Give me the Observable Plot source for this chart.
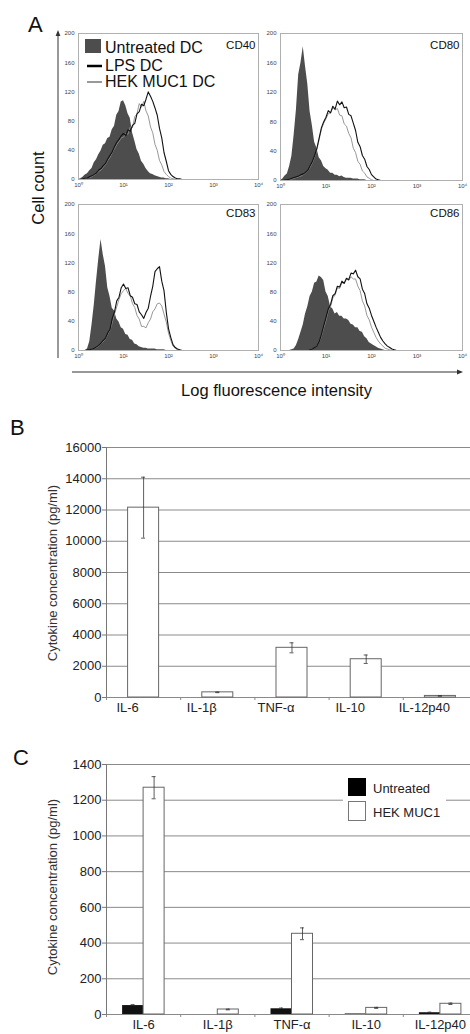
<!DOCTYPE html>
<html><head><meta charset="utf-8">
<script src="https://cdn.jsdelivr.net/npm/d3@7"></script>
<script src="https://cdn.jsdelivr.net/npm/@observablehq/plot@0.6"></script>
<style>
html,body{margin:0;padding:0;background:#fff;}
#fig{position:relative;width:470px;height:1034px;overflow:hidden;background:#fff;font-family:"Liberation Sans",Arial,sans-serif;color:#111;}
.holder{position:absolute;}
#overlay{position:absolute;left:0;top:0;pointer-events:none;}
</style></head><body><div id="fig"></div>
<script>
// ---------- Panel A: flow cytometry histograms ----------
// bin positions (log10 of fluorescence intensity)
const EXP = [0,0.05,0.1,0.15,0.2,0.25,0.3,0.35,0.4,0.45,
             0.5,0.55,0.6,0.65,0.7,0.75,0.8,0.85,0.9,0.95,
             1.0,1.05,1.1,1.15,1.2,1.25,1.3,1.35,1.4,1.45,
             1.5,1.55,1.6,1.65,1.7,1.75,1.8,1.85,1.9,1.95,
             2.0,2.05,2.1,2.15,2.2,2.25,2.3,2.35,2.4,2.45,
             2.5,2.55,2.6];
const A_X_TICKS = [1,10,100,1000,10000];
const A_Y_TICKS = [0,40,80,120,160,200];
const A_LEGEND = ["Untreated DC","LPS DC","HEK MUC1 DC"];

const CD40_UNTREATED = [0,1,3,6,8,12,15,23,27,34, 39,47,49,56,58,68,73,88,93,106, 108,101,90,84,64,53,41,35,25,21, 15,11,8,7,5,4,3,2,2,1, 1,0,0,0,0,0,0,0,0,0, 0,0,0];
const CD40_LPS       = [0,0,1,2,2,4,5,7,9,13, 15,19,22,28,33,38,45,51,55,60, 63,60,68,66,74,77,90,93,103,101, 110,120,114,107,98,88,70,57,37,25, 12,7,4,2,1,1,0,0,0,0, 0,0,0];
const CD40_HEK       = [0,0,1,2,2,3,4,6,8,11, 13,17,20,26,30,37,42,48,52,57, 58,63,62,72,71,86,90,104,99,107, 94,87,72,64,48,40,26,20,11,7, 4,2,1,0,0,0,0,0,0,0, 0,0,0];

const CD80_UNTREATED = [0,2,6,9,19,33,62,96,144,160, 182,155,131,94,75,52,44,31,27,19, 16,14,10,10,7,7,5,6,4,3, 3,3,2,2,2,1,1,1,0,0, 0,0,0,0,0,0,0,0,0,0, 0,0,0];
const CD80_LPS       = [0,0,1,1,2,3,4,5,6,8, 9,11,14,20,26,34,44,58,72,80, 86,95,92,101,97,108,103,107,99,100, 90,88,78,68,52,46,34,29,19,15, 8,5,2,1,0,0,0,0,0,0, 0,0,0];
const CD80_HEK       = [0,0,1,1,2,2,3,4,5,6, 8,10,13,18,24,32,42,56,70,78, 84,91,92,99,96,98,89,88,77,74, 64,58,44,38,26,22,13,10,5,3, 1,0,0,0,0,0,0,0,0,0, 0,0,0];

const CD83_UNTREATED = [0,0,0,0,2,12,35,62,95,125, 152,131,115,86,74,58,54,43,39,31, 29,22,21,15,14,9,8,5,4,3, 3,2,2,2,2,1,1,1,1,0, 0,0,0,0,0,0,0,0,0,0, 0,0,0];
const CD83_LPS       = [0,0,0,0,1,1,2,3,5,7, 10,14,17,24,29,44,53,68,73,86, 91,85,86,75,73,64,63,53,49,44, 52,58,74,88,108,112,115,95,82,53, 30,18,8,4,2,1,0,0,0,0, 0,0,0];
const CD83_HEK       = [0,0,0,0,1,1,2,3,4,6, 9,12,16,22,28,38,50,60,70,78, 82,85,78,75,64,59,48,43,33,33, 31,38,43,53,57,64,65,61,50,39, 24,14,6,3,1,0,0,0,0,0, 0,0,0];

const CD86_UNTREATED = [0,0,0,0,0,1,2,7,15,25, 35,50,60,74,80,92,94,102,100,96, 80,74,60,57,50,52,47,47,43,43, 41,36,35,31,31,26,25,19,16,11, 9,7,5,3,2,1,0,0,0,0, 0,0,0];
const CD86_LPS       = [0,0,0,0,0,0,0,0,0,0, 0,0,0,1,2,4,6,12,22,34, 45,57,63,75,78,88,87,95,92,99, 97,106,105,110,101,98,84,78,64,58, 48,40,32,25,18,13,9,6,4,2, 1,0,0];
const CD86_HEK       = [0,0,0,0,0,0,0,0,0,0, 0,0,0,1,2,4,6,11,20,31, 41,54,60,72,76,86,85,93,92,98, 96,101,98,98,88,82,68,61,48,42, 32,25,18,13,9,6,3,2,1,0, 0,0,0];

// ---------- Panels B and C: cytokines ----------
const CYTOKINES = ["IL-6","IL-1β","TNF-α","IL-10","IL-12p40"];
const B_VALUES = [12150, 330, 3180, 2450, 100];
const B_ERRORS = [1950, 20, 320, 270, 15];
const B_TICKS = [0,2000,4000,6000,8000,10000,12000,14000,16000];

const C_SERIES = ["Untreated","HEK MUC1"];
const C_UNTREATED = [50, 0, 32, 3, 10];
const C_UNTREATED_ERR = [5, 0, 4, 0, 3];
const C_HEK = [1270, 28, 452, 37, 60];
const C_HEK_ERR = [62, 2, 33, 3, 4];
const C_TICKS = [0,200,400,600,800,1000,1200,1400];

const Y_TITLE = "Cytokine concentration (pg/ml)";
const FONT = "'Liberation Sans', Arial, sans-serif";

const fig = document.getElementById("fig");
function place(node, left, top) {
  const d = document.createElement("div");
  d.className = "holder";
  d.style.left = left + "px";
  d.style.top = top + "px";
  d.appendChild(node);
  fig.appendChild(d);
}

const SUP = ["⁰","¹","²","³","⁴"];
const panels = [
  {name:"CD40", left:56, top:31, w:206, hgt:160, dy:7, u:CD40_UNTREATED, l:CD40_LPS, k:CD40_HEK},
  {name:"CD80", left:258, top:31, w:208, hgt:161, dy:7, u:CD80_UNTREATED, l:CD80_LPS, k:CD80_HEK},
  {name:"CD83", left:56, top:202, w:206, hgt:160, dy:4, u:CD83_UNTREATED, l:CD83_LPS, k:CD83_HEK},
  {name:"CD86", left:258, top:202, w:208, hgt:160, dy:4, u:CD86_UNTREATED, l:CD86_LPS, k:CD86_HEK}
];
for (const p of panels) {
  const data = EXP.map((e,i) => ({intensity: Math.pow(10, e), untreated: p.u[i], lps: p.l[i], hek: p.k[i]}));
  const chart = Plot.plot({
    width: p.w, height: p.hgt,
    marginLeft: 22, marginRight: 4, marginTop: 2, marginBottom: 12,
    style: {fontFamily: FONT, fontSize: "6px", color: "#444", overflow: "visible", background: "transparent"},
    x: {type: "log", domain: [1, 10000]},
    y: {domain: [0, 200]},
    marks: [
      Plot.areaY(data, {x: "intensity", y: "untreated", fill: "#4d4d4d"}),
      Plot.lineY(data, {x: "intensity", y: "hek", stroke: "#8c8c8c", strokeWidth: 0.9}),
      Plot.lineY(data, {x: "intensity", y: "lps", stroke: "#111", strokeWidth: 1.1}),
      Plot.frame({stroke: "#b0b0b0"}),
      Plot.axisX({ticks: A_X_TICKS, tickFormat: d => "10" + SUP[Math.round(Math.log10(d))], tickSize: 0, tickPadding: 3, label: null}),
      Plot.axisY({ticks: A_Y_TICKS, tickSize: 0, tickPadding: 4, label: null}),
      Plot.text([p.name], {frameAnchor: "top-right", text: d => d, dx: -3, dy: p.dy, textAnchor: "end", lineAnchor: "top", fontSize: 11.5, fill: "#111"})
    ]
  });
  place(chart, p.left, p.top);
}

// ---------- Panel B ----------
const bData = CYTOKINES.map((name, i) => ({name, value: B_VALUES[i], err: B_ERRORS[i]}));
const chartB = Plot.plot({
  width: 470, height: 282,
  marginLeft: 106, marginRight: -7, marginTop: 7, marginBottom: 25,
  style: {fontFamily: FONT, fontSize: "13px", color: "#222", background: "transparent"},
  x: {domain: CYTOKINES, paddingInner: 0.582, paddingOuter: 0.291, round: false},
  y: {domain: [0, 16000]},
  marks: [
    Plot.gridY({ticks: B_TICKS, stroke: "#8a8a8a", strokeOpacity: 1}),
    Plot.frame({anchor: "left", stroke: "#777"}),
    Plot.barY(bData, {x: "name", y: "value", fill: "white", stroke: "#666"}),
    Plot.ruleX(bData, {x: "name", y1: d => d.value - d.err, y2: d => d.value + d.err, stroke: "#333", strokeWidth: 0.8}),
    Plot.tickY(bData, {x: "name", y: d => d.value + d.err, insetLeft: 13.5, insetRight: 13.5, stroke: "#333", strokeWidth: 0.8}),
    Plot.tickY(bData, {x: "name", y: d => d.value - d.err, insetLeft: 13.5, insetRight: 13.5, stroke: "#333", strokeWidth: 0.8}),
    Plot.axisY({ticks: B_TICKS, tickFormat: d => String(d), tickSize: 4, tickPadding: 1, stroke: "#777", label: null}),
    Plot.axisX({tickSize: 0, tickPadding: 5, dx: -16, label: null}),
    Plot.axisX({tickSize: 3, tickFormat: () => "", dx: -37.1, stroke: "#888", label: null})
  ]
});
place(chartB, 0, 440);

// ---------- Panel C ----------
const cData = CYTOKINES.map((name, i) => ({name, untreated: C_UNTREATED[i], uErr: C_UNTREATED_ERR[i], hek: C_HEK[i], hErr: C_HEK_ERR[i]}));
const errStyle = {stroke: "#333", strokeWidth: 0.8};
const chartC = Plot.plot({
  width: 470, height: 277,
  marginLeft: 106, marginRight: -7, marginTop: 7, marginBottom: 20,
  style: {fontFamily: FONT, fontSize: "13px", color: "#222", background: "transparent"},
  x: {domain: CYTOKINES, paddingInner: 0.434, paddingOuter: 0.217, round: false},
  y: {domain: [0, 1400]},
  marks: [
    Plot.gridY({ticks: C_TICKS, stroke: "#8a8a8a", strokeOpacity: 1}),
    Plot.frame({anchor: "left", stroke: "#777"}),
    Plot.barY(cData, {x: "name", y: "untreated", insetRight: 21, fill: "#111"}),
    Plot.barY(cData, {x: "name", y: "hek", insetLeft: 21, fill: "white", stroke: "#666"}),
    Plot.ruleX(cData.filter(d => d.uErr > 0), {x: "name", dx: -10.5, y1: d => d.untreated - d.uErr, y2: d => d.untreated + d.uErr, ...errStyle}),
    Plot.tickY(cData.filter(d => d.uErr > 0), {x: "name", y: d => d.untreated + d.uErr, insetLeft: 8.5, insetRight: 29.5, ...errStyle}),
    Plot.ruleX(cData, {x: "name", dx: 10.5, y1: d => d.hek - d.hErr, y2: d => d.hek + d.hErr, ...errStyle}),
    Plot.tickY(cData, {x: "name", y: d => d.hek + d.hErr, insetLeft: 29.5, insetRight: 8.5, ...errStyle}),
    Plot.tickY(cData, {x: "name", y: d => d.hek - d.hErr, insetLeft: 29.5, insetRight: 8.5, ...errStyle}),
    Plot.axisY({ticks: C_TICKS, tickFormat: d => String(d), tickSize: 4, tickPadding: 1, stroke: "#777", label: null}),
    Plot.axisX({tickSize: 0, tickPadding: 5, label: null}),
    Plot.axisX({tickSize: 3, tickFormat: () => "", dx: -37.1, stroke: "#888", label: null})
  ]
});
place(chartC, 0, 757);

// ---------- overlay: panel letters, outer axes, titles, legends ----------
const NS = "http://www.w3.org/2000/svg";
const ov = document.createElementNS(NS, "svg");
ov.setAttribute("id", "overlay");
ov.setAttribute("width", 470);
ov.setAttribute("height", 1034);
ov.setAttribute("font-family", FONT);
function el(tag, attrs, text) {
  const e = document.createElementNS(NS, tag);
  for (const k in attrs) e.setAttribute(k, attrs[k]);
  if (text != null) e.textContent = text;
  ov.appendChild(e);
  return e;
}
el("text", {x: 28, y: 32, "font-size": 22, fill: "#111"}, "A");
el("text", {x: 10, y: 435, "font-size": 22, fill: "#111"}, "B");
el("text", {x: 13, y: 765, "font-size": 22, fill: "#111"}, "C");
// outer axes of panel A
el("line", {x1: 58, y1: 358, x2: 58, y2: 34, stroke: "#333", "stroke-width": 1});
el("polygon", {points: "58,30 55.6,36 60.4,36", fill: "#333"});
el("line", {x1: 72, y1: 372, x2: 458, y2: 372, stroke: "#333", "stroke-width": 1});
el("polygon", {points: "463,372 457,369.6 457,374.4", fill: "#333"});
el("text", {transform: "translate(44,188) rotate(-90)", "text-anchor": "middle", "font-size": 16.5, fill: "#111"}, "Cell count");
el("text", {x: 276.5, y: 396, "text-anchor": "middle", "font-size": 16.5, fill: "#111"}, "Log fluorescence intensity");
// y titles of B and C
el("text", {transform: "translate(57,573) rotate(-90)", "text-anchor": "middle", "font-size": 13, fill: "#333"}, Y_TITLE);
el("text", {transform: "translate(57,887) rotate(-90)", "text-anchor": "middle", "font-size": 13, fill: "#333"}, Y_TITLE);
// legend A
el("rect", {x: 85, y: 39, width: 16, height: 14, fill: "#4d4d4d"});
el("text", {x: 105, y: 53, "font-size": 16, fill: "#111"}, A_LEGEND[0]);
el("line", {x1: 87, y1: 66, x2: 102, y2: 66, stroke: "#000", "stroke-width": 2.5});
el("text", {x: 105, y: 71, "font-size": 16, fill: "#111"}, A_LEGEND[1]);
el("line", {x1: 87, y1: 82, x2: 102, y2: 82, stroke: "#333", "stroke-width": 1});
el("text", {x: 105, y: 87, "font-size": 16, fill: "#111"}, A_LEGEND[2]);
// legend C
el("rect", {x: 343, y: 770, width: 103, height: 57, fill: "#fff"});
el("rect", {x: 348, y: 778, width: 18, height: 18, fill: "#000"});
el("text", {x: 373, y: 793, "font-size": 13, fill: "#222"}, C_SERIES[0]);
el("rect", {x: 348.5, y: 801.5, width: 17, height: 19, fill: "#fff", stroke: "#777"});
el("text", {x: 373, y: 817, "font-size": 13, fill: "#222"}, C_SERIES[1]);
fig.appendChild(ov);
</script></body></html>
